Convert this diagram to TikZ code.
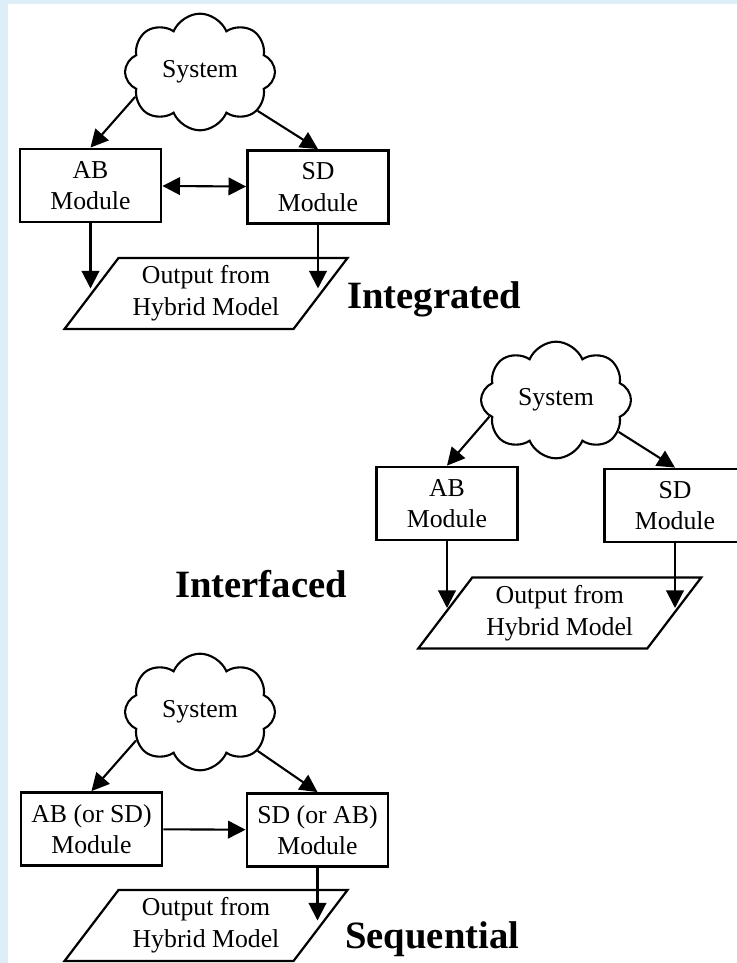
\documentclass[tikz,border=0pt]{standalone}
\usepackage{fontspec}
\setmainfont{Liberation Serif}
\usetikzlibrary{arrows.meta,shapes.symbols,calc}
\definecolor{paleblue}{RGB}{221,238,248}
\tikzset{
  >={Triangle[length=15pt,width=15pt]},
  module/.style={draw, line width=2.4pt, minimum width=4.23cm, minimum height=2.19cm,
                 align=center, inner sep=0pt, font=\fontsize{22}{27}\selectfont},
  system/.style={cloud, draw, line width=1.8pt, cloud puffs=8, cloud puff arc=135, aspect=1.3,
                 minimum width=4.5cm, minimum height=3.5cm, inner sep=0pt, font=\fontsize{22}{27}\selectfont},
  outtext/.style={align=center, inner sep=0pt, font=\fontsize{22}{27}\selectfont},
  paraline/.style={line width=1.9pt, line join=miter},
  flow/.style={line width=1.8pt, ->},
  title/.style={anchor=base west, inner sep=0pt, font=\fontsize{33}{36}\selectfont\bfseries}
}

\begin{document}
\begin{tikzpicture}[x=0.03cm, y=-0.03cm]
            \useasboundingbox (0,0) rectangle (737,963);
            \clip (0,0) rectangle (737,963);
            \fill[paleblue] (0,0) rectangle (737,4);
            \fill[paleblue] (0,0) rectangle (8,963);

            % integrated
            \node[system] (sys1) at (200,72)     {System};
            \node[module] (ab1)  at (90.5,185.5) {AB\\Module};
            \node[module] (sd1)  at (318,187)    {SD\\Module};
            \node[outtext] (out1) at (206,293.5) {Output from\\Hybrid Model};
            \node[title]  (ttl1) at (347,308)    {Integrated};
            \draw[flow] (sys1.201) -- (ab1.north);
            \draw[flow] (sys1.326) -- (sd1.north);
            \draw[flow, <->] (ab1) -- (sd1);
            \draw[flow, shorten >=0.15cm] (ab1.south) -- (ab1.south |- out1.center);
            \draw[flow, shorten >=0.15cm] (sd1.south) -- (sd1.south |- out1.center);

            % interfaced
            \node[system] (sys2) at (556,400)    {System};
            \node[module] (ab2)  at (447,503.5)  {AB\\Module};
            \node[module] (sd2)  at (675,505.5)  {SD\\Module};
            \node[outtext] (out2) at (559.75,613) {Output from\\Hybrid Model};
            \node[title]  (ttl2) at (175,597)    {Interfaced};
            \draw[flow] (sys2.194) -- (ab2.north);
            \draw[flow] (sys2.333) -- (sd2.north);
            \draw[flow, shorten >=0.15cm] (ab2.south) -- (ab2.south |- out2.center);
            \draw[flow, shorten >=0.15cm] (sd2.south) -- (sd2.south |- out2.center);

            % sequential
            \node[system] (sys3) at (200,712)    {System};
            \node[module] (ab3)  at (91.5,829)   {AB (or SD)\\Module};
            \node[module] (sd3)  at (317.5,830)  {SD (or AB)\\Module};
            \node[outtext] (out3) at (206,925.5) {Output from\\Hybrid Model};
            \node[title]  (ttl3) at (345,948)    {Sequential};
            \draw[flow] (sys3.204) -- (ab3.north);
            \draw[flow] (sys3.326) -- (sd3.north);
            \draw[flow] (ab3) -- (sd3);
            \draw[flow, shorten >=0.15cm] (sd3.south) -- (sd3.south |- out3.center);

            \foreach \o in {out1,out2,out3}
                \draw[paraline] ($(\o)+(-141.5,35.5)$) -- ++(229,0) -- ++(54,-71) -- ++(-229,0) -- cycle;
\end{tikzpicture}
\end{document}
